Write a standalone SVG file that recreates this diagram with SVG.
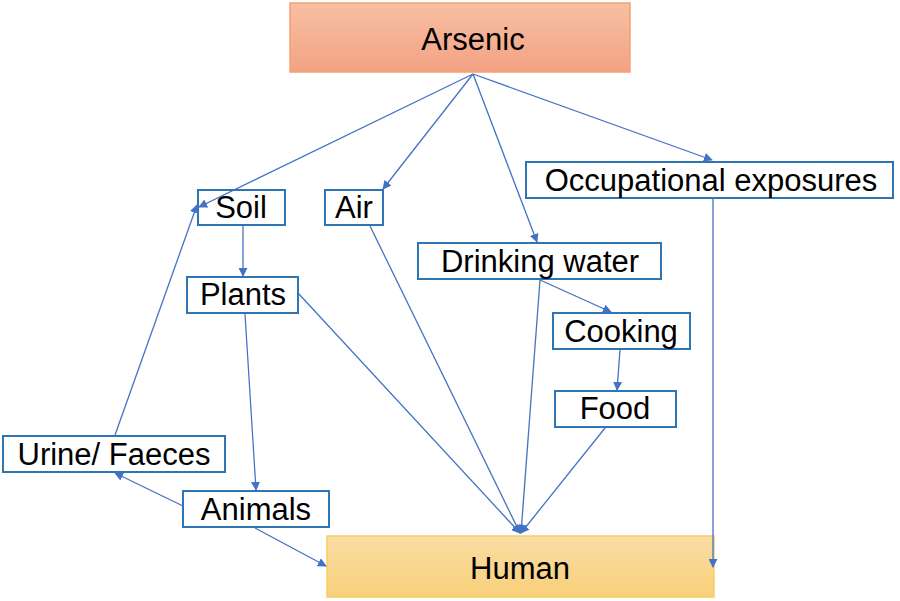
<svg xmlns="http://www.w3.org/2000/svg" width="900" height="601" viewBox="0 0 900 601">
<style>
.b{fill:#fff;stroke:#2e75b6;stroke-width:2}
.t{font-family:"Liberation Sans",Arial,sans-serif;font-size:31px;fill:#000;text-anchor:middle}
.c line{stroke:#4472c4;stroke-width:1.3;marker-end:url(#a)}
</style>
<defs>
<marker id="a" viewBox="0 0 10 10" refX="9" refY="5" markerWidth="9" markerHeight="9" markerUnits="userSpaceOnUse" orient="auto"><path d="M0,0L10,5L0,10z" fill="#4472c4"/></marker>
<linearGradient id="g1" x1="0" y1="0" x2="0" y2="1"><stop offset="0" stop-color="#f7bfa3"/><stop offset="1" stop-color="#f3a283"/></linearGradient>
<linearGradient id="g2" x1="0" y1="0" x2="0" y2="1"><stop offset="0" stop-color="#fbdea5"/><stop offset="1" stop-color="#f8cf7a"/></linearGradient>
</defs>
<rect width="900" height="601" fill="#fff"/>
<g id="arsenic"><rect x="290" y="3" width="340" height="69" fill="url(#g1)" stroke="#f4a070" stroke-width="1.5"/><text class="t" x="473" y="50" font-size="35">Arsenic</text></g>
<g id="human"><rect x="327" y="536" width="387" height="61" fill="url(#g2)" stroke="#f5d060" stroke-width="1.5"/><text class="t" x="520" y="579" font-size="35">Human</text></g>
<g id="soil"><rect class="b" x="198" y="190" width="87" height="35"/><text class="t" x="241" y="218">Soil</text></g>
<g id="air"><rect class="b" x="325" y="190" width="58" height="35"/><text class="t" x="354" y="218">Air</text></g>
<g id="occ"><rect class="b" x="526" y="162" width="367" height="36"/><text class="t" x="711" y="191">Occupational exposures</text></g>
<g id="drinking"><rect class="b" x="418" y="243" width="243" height="36"/><text class="t" x="540" y="272">Drinking water</text></g>
<g id="plants"><rect class="b" x="187" y="277" width="111" height="36"/><text class="t" x="243" y="305">Plants</text></g>
<g id="cooking"><rect class="b" x="553" y="313" width="137" height="36"/><text class="t" x="621" y="342">Cooking</text></g>
<g id="food"><rect class="b" x="555" y="391" width="121" height="36"/><text class="t" x="615" y="419">Food</text></g>
<g id="urine"><rect class="b" x="3" y="436" width="222" height="36"/><text class="t" x="114" y="465">Urine/ Faeces</text></g>
<g id="animals"><rect class="b" x="183" y="491" width="146" height="36"/><text class="t" x="256" y="520">Animals</text></g>
<g class="c">
<line x1="473" y1="74" x2="199" y2="207"/>
<line x1="473" y1="74" x2="383" y2="189"/>
<line x1="473" y1="74" x2="537" y2="242"/>
<line x1="473" y1="74" x2="712" y2="160"/>
<line x1="243" y1="226" x2="243" y2="276"/>
<line x1="245" y1="314" x2="256" y2="490"/>
<line x1="298" y1="293" x2="520" y2="533"/>
<line x1="370" y1="226" x2="520" y2="533"/>
<line x1="540" y1="280" x2="521" y2="533"/>
<line x1="540" y1="280" x2="611" y2="312"/>
<line x1="620" y1="350" x2="617" y2="390"/>
<line x1="605" y1="428" x2="521" y2="533"/>
<line x1="183" y1="506" x2="115" y2="473"/>
<line x1="115" y1="435" x2="197" y2="205"/>
<line x1="255" y1="528" x2="326" y2="566"/>
<line x1="713" y1="199" x2="713" y2="567"/>
</g>
</svg>
